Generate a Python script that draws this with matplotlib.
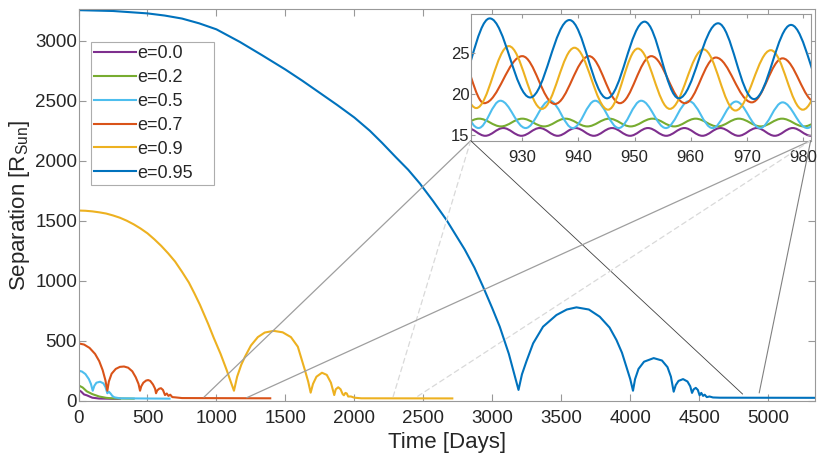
import matplotlib
matplotlib.use("Agg")
import matplotlib.pyplot as plt
from matplotlib.path import Path
from matplotlib.patches import PathPatch, ConnectionPatch
from matplotlib.legend_handler import HandlerLine2D

plt.rcParams['font.family'] = ['Liberation Sans', 'DejaVu Sans']
plt.rcParams['mathtext.fontset'] = 'custom'
plt.rcParams['mathtext.rm'] = 'Liberation Sans'
plt.rcParams['mathtext.it'] = 'Liberation Sans:italic'

# ---- series ----
labels = ["e=0.0", "e=0.2", "e=0.5", "e=0.7", "e=0.9", "e=0.95"]
colors = ["#7E2F8E", "#77AC30", "#4DBEEE", "#D95319", "#EDB120", "#0072BD"]

# main panel: time [days], separation [R_sun]
t_e00 = [0, 20, 40, 60, 80, 100, 150, 250, 300]
r_e00 = [90, 75, 52, 45, 35, 25, 18, 16, 16]

t_e02 = [0, 30, 60, 100, 150, 200, 250, 400]
r_e02 = [128, 110, 78, 55, 35, 24, 19, 17]

t_e05 = [0, 25, 50, 75, 90, 103, 115, 130, 156, 180, 195, 209, 220, 232, 245, 260, 300, 660]
r_e05 = [250, 243, 222, 180, 140, 83, 125, 150, 158, 145, 115, 62, 75, 60, 40, 28, 20, 17]

t_e07 = [0, 40, 80, 120, 150, 175, 195, 209, 220, 240, 270, 300, 330, 360, 390, 415, 435, 446,
         455, 470, 490, 505, 520, 540, 555, 562, 570, 585, 598, 612, 627, 640, 652, 665, 680,
         700, 750, 1390]
r_e07 = [478, 468, 440, 390, 330, 255, 170, 83, 160, 225, 265, 282, 285, 275, 245, 195, 140, 83,
         120, 150, 168, 172, 165, 135, 100, 62, 85, 100, 104, 90, 47, 60, 40, 50, 30,
         28, 22, 20]

t_e09 = [0, 50, 100, 150, 200, 250, 300, 350, 400, 450, 500, 550, 600, 650, 700, 750, 800, 840,
         880, 940, 980, 1030, 1074, 1100, 1127,
         1150, 1180, 1207, 1250, 1300, 1350, 1415, 1480, 1540, 1590, 1641, 1665, 1683,
         1700, 1725, 1765, 1800, 1830, 1854, 1865, 1883, 1900, 1915, 1924, 1935, 1945, 1955,
         1975, 2000, 2050, 2710]
r_e09 = [1585, 1583, 1578, 1570, 1560, 1544, 1525, 1500, 1470, 1435, 1395, 1345, 1290, 1228,
         1160, 1075, 985, 895, 800, 640, 525, 390, 256, 170, 83,
         200, 300, 367, 460, 530, 568, 582, 570, 530, 450, 256, 160, 67,
         140, 200, 233, 215, 150, 47, 95, 112, 95, 55, 45, 65, 60, 35,
         35, 25, 20, 19]

t_e095 = [0, 250, 500, 625, 750, 875, 1000, 1170, 1330, 1500, 1625, 1750, 1875, 2000, 2112,
          2200, 2300, 2390, 2475, 2570, 2668, 2800, 2870, 2933, 3000,
          3054, 3120, 3190, 3215, 3248, 3296, 3368, 3465, 3540, 3610, 3700, 3779, 3850, 3900,
          3940, 3972, 4000, 4020, 4035, 4060, 4100, 4170, 4230, 4270, 4295, 4315, 4330, 4350,
          4383, 4415, 4435, 4448, 4460, 4475, 4490, 4503, 4515, 4528, 4540, 4555, 4575, 4600,
          4650, 5340]
r_e095 = [3255, 3248, 3228, 3210, 3185, 3145, 3095, 2990, 2880, 2760, 2665, 2565, 2465, 2360,
          2250, 2150, 2030, 1925, 1810, 1665, 1506, 1260, 1110, 950, 770,
          617, 390, 90, 220, 330, 478, 617, 714, 760, 778, 760, 700, 610, 506,
          400, 283, 180, 83, 180, 265, 325, 355, 335, 280, 200, 75, 130, 165,
          180, 160, 120, 65, 95, 107, 90, 45, 65, 40, 50, 30, 35, 27,
          25, 24]

main_t = [t_e00, t_e02, t_e05, t_e07, t_e09, t_e095]
main_r = [r_e00, r_e02, r_e05, r_e07, r_e09, r_e095]

# inset panel: turning points (time, separation) of each curve
zt_e00 = [920.2, 923.4, 926.6, 929.85, 933.1, 936.3, 939.5, 942.75, 946.0, 949.2, 952.4,
          955.65, 958.9, 962.1, 965.3, 968.55, 971.8, 975.0, 978.2, 981.45, 984.7]
zr_e00 = [15.85, 14.9, 15.85, 14.9, 15.85, 14.9, 15.85, 14.9, 15.85, 14.9, 15.85,
          14.9, 15.85, 14.9, 15.85, 14.9, 15.85, 14.9, 15.85, 14.9, 15.85]

zt_e02 = [918.4, 922.3, 926.2, 930.0, 933.9, 937.7, 941.6, 945.5, 949.3, 953.2, 957.1,
          960.9, 964.8, 968.6, 972.5, 976.3, 980.2, 984.0]
zr_e02 = [16.05, 17.0, 16.05, 17.0, 16.05, 17.0, 16.05, 17.0, 16.05, 17.0, 16.05,
          17.0, 16.05, 17.0, 16.05, 17.0, 16.05, 17.0]

zt_e05 = [918.0, 922.2, 926.1, 930.6, 934.9, 939.0, 943.0, 947.2, 951.2, 955.6, 959.7,
          963.9, 968.1, 972.4, 976.4, 980.8, 985.0]
zr_e05 = [19.2, 15.85, 19.2, 15.85, 19.2, 15.85, 19.2, 15.85, 19.2, 15.85, 19.15,
          15.85, 19.1, 15.85, 19.0, 15.85, 19.0]

zt_e07 = [918.8, 923.2, 930.0, 935.8, 941.9, 947.4, 953.0, 959.0, 964.5, 970.9, 976.4, 982.3]
zr_e07 = [24.7, 18.9, 24.67, 18.8, 24.67, 18.9, 24.67, 18.9, 24.5, 19.0, 24.4, 19.0]

zt_e09 = [916.0, 921.8, 927.6, 933.5, 939.3, 945.3, 950.6, 956.3, 962.3, 968.0, 974.3, 980.0, 986.0]
zr_e09 = [25.9, 18.3, 25.9, 18.2, 25.7, 18.1, 25.6, 18.2, 25.5, 18.0, 25.4, 18.1, 25.3]

zt_e095 = [917.8, 924.2, 931.4, 938.4, 945.1, 951.8, 957.9, 964.9, 971.3, 977.9, 984.6]
zr_e095 = [19.7, 29.3, 19.6, 29.1, 19.5, 28.9, 19.5, 28.7, 19.4, 28.5, 19.4]

zoom_t = [zt_e00, zt_e02, zt_e05, zt_e07, zt_e09, zt_e095]
zoom_r = [zr_e00, zr_e02, zr_e05, zr_e07, zr_e09, zr_e095]

# where the zoom lines meet the main panel
link_left = [(910, 30), (2280, 30), (4815, 55)]
link_right = [(1220, 25), (2450, 30), (4935, 65)]
link_style = [dict(color="0.62", lw=0.9, ls="-"),
              dict(color="0.85", lw=0.9, ls=(0, (4, 3))),
              dict(color="0.25", lw=0.6, ls="-")]
link_style_r = [dict(color="0.62", lw=0.9, ls="-"),
                dict(color="0.85", lw=0.9, ls=(0, (4, 3))),
                dict(color="0.5", lw=0.8, ls="-")]

AX_GRAY = "0.6"
TXT = "#262626"


def smooth_curve(ax, tx, ry, color):
    # smooth cubic path through the turning points, flat at each peak / trough
    verts = [(tx[0], ry[0])]
    codes = [Path.MOVETO]
    for i in range(len(tx) - 1):
        h = tx[i + 1] - tx[i]
        verts += [(tx[i] + 0.363 * h, ry[i]), (tx[i + 1] - 0.363 * h, ry[i + 1]),
                  (tx[i + 1], ry[i + 1])]
        codes += [Path.CURVE4] * 3
    ax.add_patch(PathPatch(Path(verts, codes), fill=False, edgecolor=color, lw=1.5))


class ShortLine(HandlerLine2D):
    def create_artists(self, legend, orig_handle, xdescent, ydescent, width, height,
                       fontsize, trans):
        arts = super().create_artists(legend, orig_handle, xdescent, ydescent, width,
                                      height, fontsize, trans)
        for a in arts:
            xd = a.get_xdata()
            if len(xd) == 2:
                a.set_xdata([xd[0] + 0.6 * (xd[1] - xd[0]), xd[1]])
        return arts


def style_axes(ax, size, pad_x, pad_y, length):
    for s in ax.spines.values():
        s.set_color(AX_GRAY)
        s.set_linewidth(0.8)
    ax.tick_params(direction="in", top=True, right=True, color=AX_GRAY,
                   labelcolor=TXT, labelsize=size, length=length, width=0.8)
    ax.tick_params(axis="x", pad=pad_x)
    ax.tick_params(axis="y", pad=pad_y)


fig = plt.figure(figsize=(8.3, 4.68), dpi=100)
ax = fig.add_axes([0.0946, 0.1438, 0.8874, 0.8363])

lines = []
for t, r, c, lab in zip(main_t, main_r, colors, labels):
    ln, = ax.plot(t, r, color=c, lw=1.5, label=lab)
    lines.append(ln)

ax.set_xlim(0, 5340)
ax.set_ylim(0, 3262)
ax.set_xticks(range(0, 5001, 500))
ax.set_yticks(range(0, 3001, 500))
style_axes(ax, 13.5, 6.5, 1, 5)
ax.set_xlabel("Time [Days]", fontsize=16, color=TXT, labelpad=4)
ax.set_ylabel(r"Separation [R$_{\mathrm{Sun}}$]", fontsize=16, color=TXT, labelpad=2)

leg = ax.legend(handles=lines, loc="upper left", mode="expand",
                bbox_to_anchor=(0.1093, 0.6109, 0.1486, 0.3), bbox_transform=fig.transFigure,
                borderaxespad=0, fontsize=13, frameon=True, fancybox=False,
                handlelength=2.3, handletextpad=0.1, labelspacing=0.38, borderpad=0.2,
                handler_map={matplotlib.lines.Line2D: ShortLine()})
leg.get_frame().set_edgecolor(AX_GRAY)
leg.get_frame().set_linewidth(0.8)
for txt in leg.get_texts():
    txt.set_color(TXT)

# inset
axin = fig.add_axes([0.5671, 0.6994, 0.4096, 0.2700])
for t, r, c in zip(zoom_t, zoom_r, colors):
    smooth_curve(axin, t, r, c)
axin.set_xlim(920.8, 981.4)
axin.set_ylim(14.3, 29.8)
axin.set_xticks(range(930, 981, 10))
axin.set_yticks([15, 20, 25])
style_axes(axin, 12, 7, 1, 3)

for xy, st in zip(link_left, link_style):
    fig.add_artist(ConnectionPatch(xyA=(0, 0), coordsA=axin.transAxes, xyB=xy,
                                   coordsB=ax.transData, **st))
for xy, st in zip(link_right, link_style_r):
    fig.add_artist(ConnectionPatch(xyA=(1, 0), coordsA=axin.transAxes, xyB=xy,
                                   coordsB=ax.transData, **st))

fig.savefig("out.png", dpi=100)
